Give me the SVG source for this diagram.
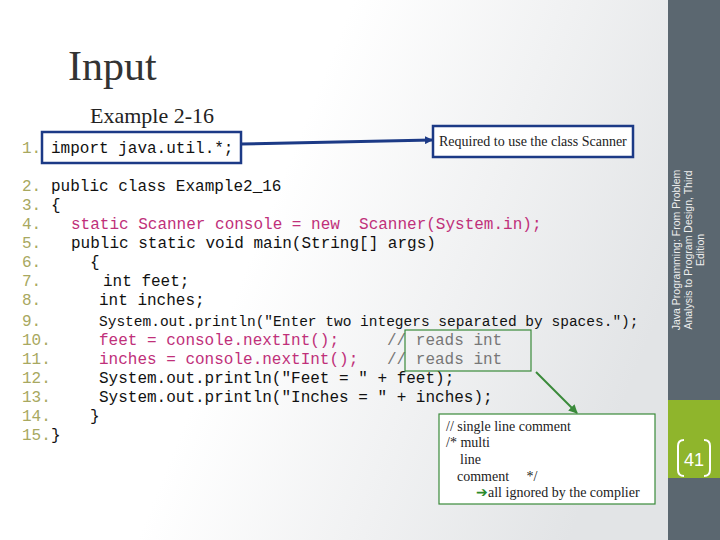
<svg xmlns="http://www.w3.org/2000/svg" width="720" height="540" viewBox="0 0 720 540">
<defs>
<linearGradient id="bg" x1="0" y1="0" x2="1" y2="0.3">
<stop offset="0.45" stop-color="#ffffff"/><stop offset="1" stop-color="#e2e4e6"/>
</linearGradient>
<marker id="ab" markerWidth="8" markerHeight="8" refX="7" refY="4" orient="auto" markerUnits="userSpaceOnUse"><path d="M0,0 L8,4 L0,8 z" fill="#1c3a86"/></marker>
<marker id="ag" markerWidth="9" markerHeight="9" refX="8" refY="4.5" orient="auto" markerUnits="userSpaceOnUse"><path d="M0,0 L9,4.5 L0,9 z" fill="#3a8a3a"/></marker>
</defs>
<style>
text{white-space:pre}
.c{font-family:"Liberation Mono",monospace;font-size:16px;fill:#111}
.n{fill:#a8a860}
.m{fill:#c0307a}
.g{fill:#777}
.s{font-family:"Liberation Serif",serif;font-size:14px;fill:#222}
</style>
<rect width="720" height="540" fill="url(#bg)"/>
<rect x="668" y="0" width="52" height="540" fill="#5b6770"/>
<rect x="668" y="400" width="52" height="78" fill="#8fb52c"/>
<text transform="translate(680,250) rotate(-90)" font-family="Liberation Sans,sans-serif" font-size="10.5" fill="#eee" text-anchor="middle"><tspan x="0" y="0">Java Programming: From Problem</tspan><tspan x="0" y="12">Analysis to Program Design, Third</tspan><tspan x="0" y="24">Edition</tspan></text>
<text x="694" y="466" font-family="Liberation Sans,sans-serif" font-size="18" fill="#fff" text-anchor="middle">41</text>
<path d="M684,440 q-6,0 -6,6 v24 q0,6 6,6 M704,440 q6,0 6,6 v24 q0,6 -6,6" fill="none" stroke="#fff" stroke-width="2"/>
<text x="68" y="80" font-family="Liberation Serif,serif" font-size="42" fill="#333">Input</text>
<text x="90" y="123" font-family="Liberation Serif,serif" font-size="22" fill="#222">Example 2-16</text>
<g id="code">
<text class="c" x="22" y="153"><tspan class="n">1.</tspan><tspan x="51">import java.util.*;</tspan></text>
<text class="c" x="22" y="191"><tspan class="n">2.</tspan><tspan x="51">public class Example2_16</tspan></text>
<text class="c" x="22" y="210"><tspan class="n">3.</tspan><tspan x="51">{</tspan></text>
<text class="c" x="22" y="229"><tspan class="n">4.</tspan><tspan x="71" class="m">static Scanner console = new  Scanner(System.in);</tspan></text>
<text class="c" x="22" y="248"><tspan class="n">5.</tspan><tspan x="71">public static void main(String[] args)</tspan></text>
<text class="c" x="22" y="267"><tspan class="n">6.</tspan><tspan x="90">{</tspan></text>
<text class="c" x="22" y="286"><tspan class="n">7.</tspan><tspan x="103">int feet;</tspan></text>
<text class="c" x="22" y="305"><tspan class="n">8.</tspan><tspan x="99">int inches;</tspan></text>
<text class="c" x="22" y="326"><tspan class="n">9.</tspan><tspan x="99" font-size="14.5">System.out.println("Enter two integers separated by spaces.");</tspan></text>
<text class="c" x="22" y="345"><tspan class="n">10.</tspan><tspan x="99" class="m">feet = console.nextInt();</tspan><tspan x="387" class="g">// reads int</tspan></text>
<text class="c" x="22" y="364"><tspan class="n">11.</tspan><tspan x="99" class="m">inches = console.nextInt();</tspan><tspan x="387" class="g">// reads int</tspan></text>
<text class="c" x="22" y="383"><tspan class="n">12.</tspan><tspan x="99">System.out.println("Feet = " + feet);</tspan></text>
<text class="c" x="22" y="402"><tspan class="n">13.</tspan><tspan x="99">System.out.println("Inches = " + inches);</tspan></text>
<text class="c" x="22" y="421"><tspan class="n">14.</tspan><tspan x="90">}</tspan></text>
<text class="c" x="22" y="440"><tspan class="n">15.</tspan><tspan x="51">}</tspan></text>
</g>
<g id="import-box"><rect x="42" y="132" width="199" height="31" fill="none" stroke="#1c3a86" stroke-width="2.5"/></g>
<g id="note-scanner"><rect x="433" y="126" width="200" height="31" fill="#fff" stroke="#1c3a86" stroke-width="2.5"/>
<text class="s" x="439" y="146">Required to use the class Scanner</text></g>
<g id="reads-box"><rect x="405" y="330" width="126" height="41" fill="none" stroke="#3a8a3a" stroke-width="1.2"/></g>
<g id="note-comment"><rect x="439" y="414" width="216" height="90" fill="#fff" stroke="#3a8a3a" stroke-width="1.2"/>
<text class="s" x="446" y="431">// single line comment</text>
<text class="s" x="446" y="447">/* multi</text>
<text class="s" x="460" y="464">line</text>
<text class="s" x="457" y="481">comment     */</text>
<text class="s" x="476" y="497"><tspan fill="#2a8a2a">➔</tspan>all ignored by the complier</text></g>
<g id="connectors">
<line x1="241" y1="144" x2="432" y2="140" stroke="#1c3a86" stroke-width="3" marker-end="url(#ab)"/>
<line x1="536" y1="372" x2="577" y2="413" stroke="#3a8a3a" stroke-width="2" marker-end="url(#ag)"/>
</g>
</svg>
